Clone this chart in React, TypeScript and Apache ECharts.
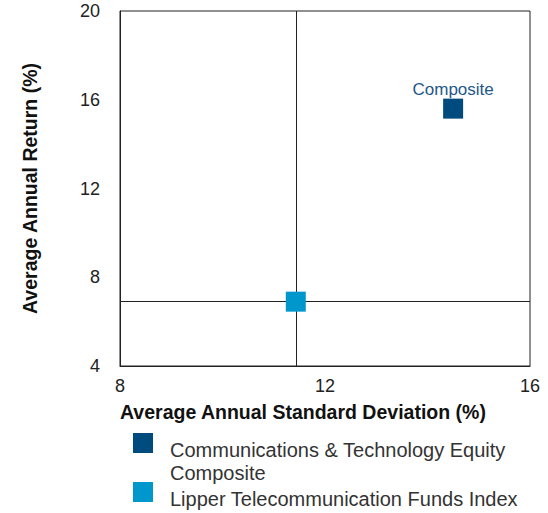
import React, { useEffect, useRef } from "react";
import * as echarts from "echarts";

const seriesNames = ["Communications & Technology Equity Composite", "Lipper Telecommunication Funds Index"];
const legendLines = [["Communications & Technology Equity", "Composite"], ["Lipper Telecommunication Funds Index"]];
const stdDev = [14.5, 11.43];
const avgReturn = [15.6, 6.9];
const colors = ["#004b7d", "#0098cc"];
const xTicks = [8, 12, 16];
const yTicks = [4, 8, 12, 16, 20];

export default function App() {
  const ref = useRef<HTMLDivElement>(null);
  useEffect(() => {
    const chart = echarts.init(ref.current!, null, { renderer: "svg" });
    const font = "'Liberation Sans', Arial, sans-serif";
    const legendGraphics: any[] = [];
    let y = 433;
    legendLines.forEach((lines, i) => {
      legendGraphics.push({
        type: "rect",
        shape: { x: 133, y: y, width: 20, height: 20 },
        style: { fill: colors[i] },
      });
      lines.forEach((ln, j) => {
        legendGraphics.push({
          type: "text",
          x: 170,
          y: y + 17 + j * 23,
          style: { text: ln, fill: "#333", font: `20px ${font}`, textVerticalAlign: "middle" },
        });
      });
      y += 49;
    });
    chart.setOption({
      animation: false,
      grid: { left: 120, top: 11, right: 18, bottom: 147, show: true, borderColor: "#222", borderWidth: 1 },
      xAxis: {
        type: "value",
        min: xTicks[0],
        max: xTicks[xTicks.length - 1],
        interval: 4,
        axisLine: { show: true, lineStyle: { color: "#222" } },
        axisTick: { show: false },
        splitLine: { show: false },
        axisLabel: { color: "#222", fontSize: 18, fontFamily: font, margin: 11 },
      },
      yAxis: {
        type: "value",
        min: yTicks[0],
        max: yTicks[yTicks.length - 1],
        interval: 4,
        name: "Average Annual Return (%)",
        nameLocation: "middle",
        nameGap: 80,
        nameTextStyle: { color: "#111", fontSize: 19.5, fontWeight: "bold", fontFamily: font },
        axisLine: { show: true, lineStyle: { color: "#222" } },
        axisTick: { show: false },
        splitLine: { show: false },
        axisLabel: { color: "#222", fontSize: 18, fontFamily: font, margin: 20 },
      },
      graphic: [
        {
          type: "text",
          left: 120,
          top: 402,
          style: { text: "Average Annual Standard Deviation (%)", fill: "#111", font: `bold 19.5px ${font}` },
        },
        ...legendGraphics,
      ],
      series: [
        {
          name: seriesNames[0],
          type: "scatter",
          symbol: "rect",
          symbolSize: 20,
          itemStyle: { color: colors[0], opacity: 1 },
          data: [[stdDev[0], avgReturn[0]]],
          label: {
            show: true,
            position: "top",
            distance: 1,
            formatter: "Composite",
            color: "#23588a",
            fontSize: 17,
            fontFamily: font,
          },
          z: 3,
        },
        {
          name: seriesNames[1],
          type: "scatter",
          symbol: "rect",
          symbolSize: 20,
          itemStyle: { color: colors[1], opacity: 1 },
          data: [[stdDev[1], avgReturn[1]]],
          z: 3,
          markLine: {
            silent: true,
            symbol: "none",
            label: { show: false },
            lineStyle: { color: "#222", width: 1, type: "solid" },
            data: [{ xAxis: stdDev[1] }, { yAxis: avgReturn[1] }],
            z: 1,
          },
        },
      ],
    });
    return () => chart.dispose();
  }, []);
  return <div ref={ref} style={{ position: "absolute", left: 0, top: 0, width: 548, height: 513 }} />;
}
